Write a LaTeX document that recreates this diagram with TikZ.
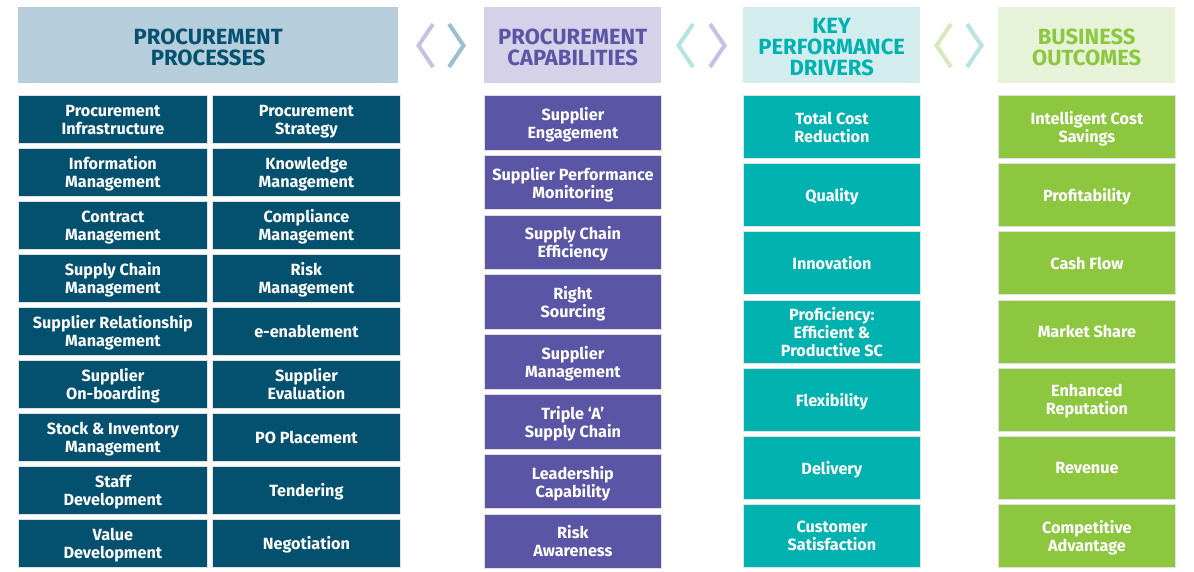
\documentclass[tikz,border=0pt]{standalone}
\usepackage{fontspec}
\setmainfont{Fira Sans}
\definecolor{procD}{HTML}{03506F}
\definecolor{procL}{HTML}{B6CDDB}
\definecolor{capD}{HTML}{5A55A5}
\definecolor{capL}{HTML}{D4D1E9}
\definecolor{kpdD}{HTML}{00B2AF}
\definecolor{kpdL}{HTML}{D3ECEE}
\definecolor{busD}{HTML}{8DC63F}
\definecolor{busL}{HTML}{E7F3D8}
\definecolor{chevA}{HTML}{C6C1E2}
\definecolor{chevB}{HTML}{9ABFD0}
\definecolor{chevC}{HTML}{B6E4E2}
\definecolor{chevD}{HTML}{D6E9BC}
\tikzset{
  cell/.style={anchor=north west, inner sep=1pt, align=center, text=white,
    font=\bfseries\fontsize{16.2}{18}\selectfont, draw=black!12, line width=0.8pt,
    text depth=0pt},
  head/.style={anchor=north west, inner sep=1pt, align=center,
    font=\bfseries\fontsize{22}{21}\selectfont, text depth=0pt, text height=40.4pt},
  head3/.style={head, text height=61.4pt},
  chev/.style={line width=4pt}
}
\begin{document}
\begin{tikzpicture}[x=1pt,y=-1pt]
\useasboundingbox (0,0) rectangle (1194,571);
% headers
\node[head, fill=procL, text=procD, minimum width=380pt, minimum height=76pt] (h1) at (18,7) {PROCUREMENT\\PROCESSES};
\node[head, fill=capL, text=capD, minimum width=177pt, minimum height=76pt] (h2) at (484,7) {PROCUREMENT\\CAPABILITIES};
\node[head3, fill=kpdL, text=kpdD, minimum width=177pt, minimum height=76pt] (h3) at (743,7) {KEY\\PERFORMANCE\\DRIVERS};
\node[head, fill=busL, text=busD, minimum width=177pt, minimum height=76pt] (h4) at (998,7) {BUSINESS\\OUTCOMES};
% chevrons
\draw[chev, chevA] (433,24) -- (418.5,45.5) -- (433,67);
\draw[chev, chevB] (449,24) -- (463.5,45.5) -- (449,67);
\draw[chev, chevC] (693,24) -- (678.5,45.5) -- (693,67);
\draw[chev, chevA] (710,24) -- (724.5,45.5) -- (710,67);
\draw[chev, chevD] (951,24) -- (936.5,45.5) -- (951,67);
\draw[chev, chevC] (967,24) -- (981.5,45.5) -- (967,67);
% column 1 left
\foreach \t [count=\i from 0] in {{Procurement\\Infrastructure},{Information\\Management},{Contract\\Management},{Supply Chain\\Management},{Supplier Relationship\\Management},{Supplier\\On-boarding},{Stock \& Inventory\\Management},{Staff\\Development},{Value\\Development}}
  \node[cell, fill=procD, minimum width=189pt, minimum height=48pt] (pa\i) at (18,95+53*\i) {\t};
% column 1 right
\foreach \t [count=\i from 0] in {{Procurement\\Strategy},{Knowledge\\Management},{Compliance\\Management},{Risk\\Management},{e-enablement},{Supplier\\Evaluation},{PO Placement},{Tendering},{Negotiation}}
  \node[cell, fill=procD, minimum width=188pt, minimum height=48pt] (pb\i) at (212,95+53*\i) {\t};
% column 2
\foreach \t [count=\i from 0] in {{Supplier\\Engagement},{Supplier Performance\\Monitoring},{Supply Chain\\Efficiency},{Right\\Sourcing},{Supplier\\Management},{Triple ‘A’\\Supply Chain},{Leadership\\Capability},{Risk\\Awareness}}
  \node[cell, fill=capD, minimum width=177pt, minimum height=54.5pt] (c\i) at (484,95+59.8*\i) {\t};
% column 3
\foreach \t [count=\i from 0] in {{Total Cost\\Reduction},{Quality},{Innovation},{Proficiency:\\Efficient \&\\Productive SC},{Flexibility},{Delivery},{Customer\\Satisfaction}}
  \node[cell, fill=kpdD, minimum width=177pt, minimum height=63pt] (k\i) at (743,95+68.2*\i) {\t};
% column 4
\foreach \t [count=\i from 0] in {{Intelligent Cost\\Savings},{Profitability},{Cash Flow},{Market Share},{Enhanced\\Reputation},{Revenue},{Competitive\\Advantage}}
  \node[cell, fill=busD, minimum width=177pt, minimum height=63pt] (b\i) at (998,95+68.2*\i) {\t};
\end{tikzpicture}
\end{document}
